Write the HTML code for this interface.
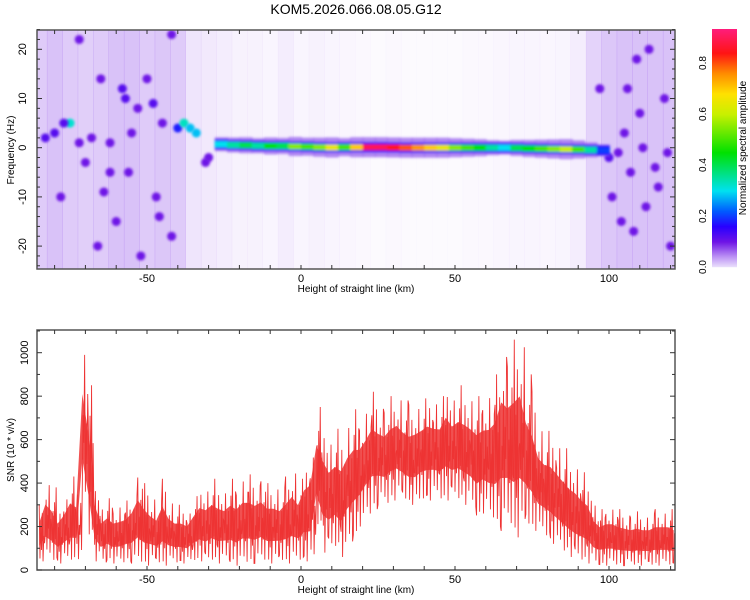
<!DOCTYPE html>
<html><head><meta charset="utf-8"><style>
body{margin:0;background:#fff;}
svg{display:block;font-family:"Liberation Sans",sans-serif;}
</style></head><body>
<svg id="c" width="750" height="600" viewBox="0 0 750 600">
<text x="356" y="14" font-size="14" text-anchor="middle">KOM5.2026.066.08.05.G12</text>
</svg>
<script>
// ---------- data ----------
const snrX0 = -85, snrStep = 2;
const snrHi = [300,420,380,300,350,430,400,1050,850,420,300,330,300,310,320,370,460,400,350,320,420,330,300,300,280,340,400,390,420,400,380,420,400,440,440,420,440,400,400,380,430,480,420,
520,560,750,700,620,650,640,700,740,720,760,820,780,760,800,820,780,760,780,790,820,800,800,880,820,850,840,820,800,820,840,900,1050,1000,1060,1100,900,820,680,640,640,600,560,520,500,450,420,320,280,300,300,280,270,260,270,260,260,280,280,280,260];
const snrLo = [40,50,40,30,40,40,50,300,150,40,30,40,30,30,40,30,30,20,30,30,20,30,30,30,30,40,40,30,40,30,40,30,20,30,30,30,40,30,30,40,30,30,40,
40,30,200,80,80,100,60,120,150,200,250,280,300,300,320,330,320,300,290,320,320,330,320,320,320,320,300,280,240,260,230,200,180,200,150,160,200,180,160,150,120,100,80,60,40,40,30,20,20,20,20,20,20,20,20,20,20,20,20,20,20];
const densX0 = -85, densStep = 5;
const speckleDensity = [0.6,0.7,0.6,0.55,0.6,0.7,0.7,0.6,0.65,0.6,0.3,0.25,0.2,0.15,0.15,0.12,0.2,0.12,0.15,0.12,0.1,0.08,0.06,0.08,0.06,0.05,0.06,0.06,0.08,0.08,0.1,0.12,0.12,0.1,0.12,0.2,0.5,0.65,0.7,0.7,0.7,0.7];
const blobKm =  [-83,-80,-75,-72,-70,-65,-62,-58,-57,-55,-53,-50,-48,-47,-45,-40,-38,-36,-34,-31,-30,-66,-60,-52,-42,-78,-72,-42,-68,-62,-77,-56,-46,-64,100,103,105,107,109,110,112,115,118,120,104,108,113,119,97,101,106,116,111];
const blobHz =  [2,3,5,1,-3,14,-5,12,10,3,8,14,9,-10,5,4,5,4,3,-3,-2,-20,-15,-22,-18,-10,22,23,2,1,5,-5,-14,-9,-2,-1,3,-5,18,7,-12,-4,10,-20,-15,-17,20,-1,12,-10,12,-8,0];
const blobAmp = [0.12,0.12,0.32,0.1,0.1,0.1,0.1,0.12,0.12,0.1,0.1,0.1,0.12,0.1,0.1,0.18,0.33,0.28,0.28,0.1,0.1,0.1,0.1,0.1,0.1,0.1,0.1,0.1,0.1,0.1,0.12,0.1,0.1,0.1,0.12,0.1,0.1,0.1,0.1,0.1,0.1,0.1,0.1,0.1,0.1,0.1,0.1,0.1,0.1,0.1,0.1,0.1,0.1];
const ridgeKm  = [-28,-24,-20,-16,-12,-8,-4,0,4,8,12,16,20,24,28,32,36,40,44,48,52,56,60,64,68,72,76,80,84,88,92,96,100];
const ridgeHz  = [0.8,0.6,0.5,0.5,0.3,0.4,0.3,0.2,0.2,0,0.1,0.1,0.1,0.1,0.1,0,0,0,0,0,0,0,0,0,0,-0.1,-0.2,-0.2,-0.3,-0.3,-0.4,-0.5,-0.6];
const ridgeAmp = [0.3,0.35,0.4,0.35,0.45,0.4,0.55,0.5,0.55,0.65,0.5,0.7,0.9,0.9,0.85,0.8,0.75,0.7,0.65,0.55,0.5,0.45,0.35,0.3,0.4,0.45,0.5,0.55,0.6,0.5,0.35,0.2,0.1];
const xTickLabels = [-50,0,50,100];
const hzTickLabels = [-20,-10,0,10,20];
const snrTickLabels = [0,200,400,600,800,1000];
const cbTickLabels = [0.0,0.2,0.4,0.6,0.8];

// ---------- axes ----------
const PL=37, PR=675;
const xs = km => 301 + (km)*3.08;
const T={top:30,bot:269}; const fy = hz => 147.7 - hz*4.92;
const B={top:330,bot:570}; const sy = v => 570 - v*0.2173;
const cby = v => 267 - v*255;
const NS='http://www.w3.org/2000/svg';
const svg=document.getElementById('c');
function mk(tag,attrs,parent){const e=document.createElementNS(NS,tag);for(const k in attrs)e.setAttribute(k,attrs[k]);(parent||svg).appendChild(e);return e;}

const stops=[[0,[236,226,252]],[0.04,[190,150,245]],[0.1,[110,20,230]],[0.16,[40,0,255]],[0.22,[0,90,255]],[0.3,[0,225,240]],[0.45,[0,225,0]],[0.6,[200,240,0]],[0.68,[255,225,0]],[0.76,[255,140,0]],[0.84,[255,20,20]],[0.95,[255,30,140]]];
function cmap(v){if(v<=0)return 'rgb(236,226,252)';for(let i=1;i<stops.length;i++){if(v<=stops[i][0]){const a=stops[i-1],b=stops[i],t=(v-a[0])/(b[0]-a[0]);return 'rgb('+a[1].map((c,j)=>Math.round(c+(b[1][j]-c)*t)).join(',')+')';}}return 'rgb(255,30,140)';}

const defs=mk('defs',{});
const cp1=mk('clipPath',{id:'clipT'},defs);mk('rect',{x:PL,y:T.top,width:PR-PL,height:T.bot-T.top},cp1);
const cp2=mk('clipPath',{id:'clipB'},defs);mk('rect',{x:PL,y:B.top,width:PR-PL,height:B.bot-B.top},cp2);
const bf=mk('filter',{id:'blur',x:'-50%',y:'-50%',width:'200%',height:'200%'},defs);mk('feGaussianBlur',{stdDeviation:'1.2'},bf);

// ---------- top heatmap ----------
const gT=mk('g',{'clip-path':'url(#clipT)'});


speckleDensity.forEach((d,i)=>{
  const km=densX0+i*densStep;
  const r=mk('rect',{x:xs(km-densStep/2),y:T.top,width:densStep*3.08+0.5,height:T.bot-T.top,fill:'rgb(165,110,238)','fill-opacity':(d*0.6).toFixed(3)},gT);
  
  
});
blobKm.forEach((km,i)=>{
  const c=mk('circle',{cx:xs(km),cy:fy(blobHz[i]),r:4.5,fill:cmap(blobAmp[i]),filter:'url(#blur)'},gT);
  
  
});
const gR=mk('g',{filter:'url(#blur)'},gT);


for(let pass=0;pass<3;pass++){
  ridgeKm.forEach((km,i)=>{
    if(i===ridgeKm.length-1)return;
    const x1=xs(km),x2=xs(ridgeKm[i+1]),y=fy((ridgeHz[i]+ridgeHz[i+1])/2);
    const a=ridgeAmp[i];
    let h,col;
    if(pass===0){h=20*Math.min(1,a+0.4);col='rgba(150,95,238,0.75)';}
    else if(pass===1){h=10;col=cmap(Math.min(a,0.17));}
    else {h=6;col=cmap(a);}
    const r=mk('rect',{x:x1,y:y-h/2,width:x2-x1+0.8,height:h,fill:col},gR);
    
    
  });
}

function frame(top,bot,name){
  const f=mk('rect',{x:PL,y:top,width:PR-PL,height:bot-top,fill:'none',stroke:'#555','stroke-width':1.5});
  
  
  for(let km=-80;km<=120;km+=10){const x=xs(km);
    mk('line',{x1:x,y1:bot,x2:x,y2:bot-4,stroke:'#333'});mk('line',{x1:x,y1:top,x2:x,y2:top+4,stroke:'#333'});}
  xTickLabels.forEach(v=>{const t=mk('text',{x:xs(v),y:bot+13,'font-size':11,'text-anchor':'middle'});t.textContent=v;
    });
  const xl=mk('text',{x:356,y:bot+23,'font-size':10,'text-anchor':'middle'});xl.textContent='Height of straight line (km)';
  
}
frame(T.top,T.bot,'top-plot-frame');
for(let hz=-24;hz<=24;hz+=2){const y=fy(hz);mk('line',{x1:PL,y1:y,x2:PL+(hz%10===0?5:3),y2:y,stroke:'#333'});mk('line',{x1:PR,y1:y,x2:PR-(hz%10===0?5:3),y2:y,stroke:'#333'});}
hzTickLabels.forEach(v=>{const y=fy(v);const t=mk('text',{x:26,y:y,'font-size':11,'text-anchor':'middle',transform:`rotate(-90 26 ${y})`});t.textContent=v;
  });
let yt=mk('text',{x:14,y:150,'font-size':10,'text-anchor':'middle',transform:'rotate(-90 14 150)'});yt.textContent='Frequency (Hz)';


// ---------- bottom SNR ----------
const gB=mk('g',{'clip-path':'url(#clipB)'});


let up=[],dn=[];
snrHi.forEach((h,i)=>{const km=snrX0+i*snrStep,l=snrLo[i];up.push(xs(km)+','+sy(h-0.32*(h-l)));dn.unshift(xs(km)+','+sy(l+0.28*(h-l)));});
const band=mk('polygon',{points:up.concat(dn).join(' '),fill:'#ee3333','fill-opacity':0.85},gB);


const spikeShape=[1,0.05,0.62,0.2,0.85,0,0.45,0.32,0.74,0.12,0.55,0.38,0.92,0.08,0.5,0.25,0.68,0.02,0.8,0.3];
let pts=[];
snrHi.forEach((h,i)=>{const km=snrX0+i*snrStep,l=snrLo[i];
  const n=8;
  for(let j=0;j<n;j++){const f=spikeShape[(j+i*7)%spikeShape.length];
    pts.push(xs(km+j*snrStep/n).toFixed(2)+','+sy(l+f*(h-l)).toFixed(2));}
});
const line=mk('polyline',{points:pts.join(' '),fill:'none',stroke:'#ee3333','stroke-width':0.9},gB);


frame(B.top,B.bot,'bottom-plot-frame');
for(let v=0;v<=1100;v+=100){const y=sy(v);mk('line',{x1:PL,y1:y,x2:PL+(v%200===0?5:3),y2:y,stroke:'#333'});mk('line',{x1:PR,y1:y,x2:PR-(v%200===0?5:3),y2:y,stroke:'#333'});}
snrTickLabels.forEach(v=>{const y=sy(v);const t=mk('text',{x:28,y:y,'font-size':11,'text-anchor':'middle',transform:`rotate(-90 28 ${y})`});t.textContent=v;
  });
yt=mk('text',{x:14,y:450,'font-size':10,'text-anchor':'middle',transform:'rotate(-90 14 450)'});yt.textContent='SNR (10 * v/v)';


// ---------- colorbar ----------
const gC=mk('g',{});


for(let y=29;y<267;y++){const v=(267-y)/255;mk('rect',{x:712,y:y,width:25,height:1.2,fill:cmap(v)},gC);}
cbTickLabels.forEach(v=>{const y=cby(v);const t=mk('text',{x:706,y:y,'font-size':10,'text-anchor':'middle',transform:`rotate(-90 706 ${y})`},gC);t.textContent=v.toFixed(1);
  });
const ct=mk('text',{x:746,y:148,'font-size':10,'text-anchor':'middle',transform:'rotate(-90 746 148)'});ct.textContent='Normalized spectral amplitude';

</script>
</body></html>
